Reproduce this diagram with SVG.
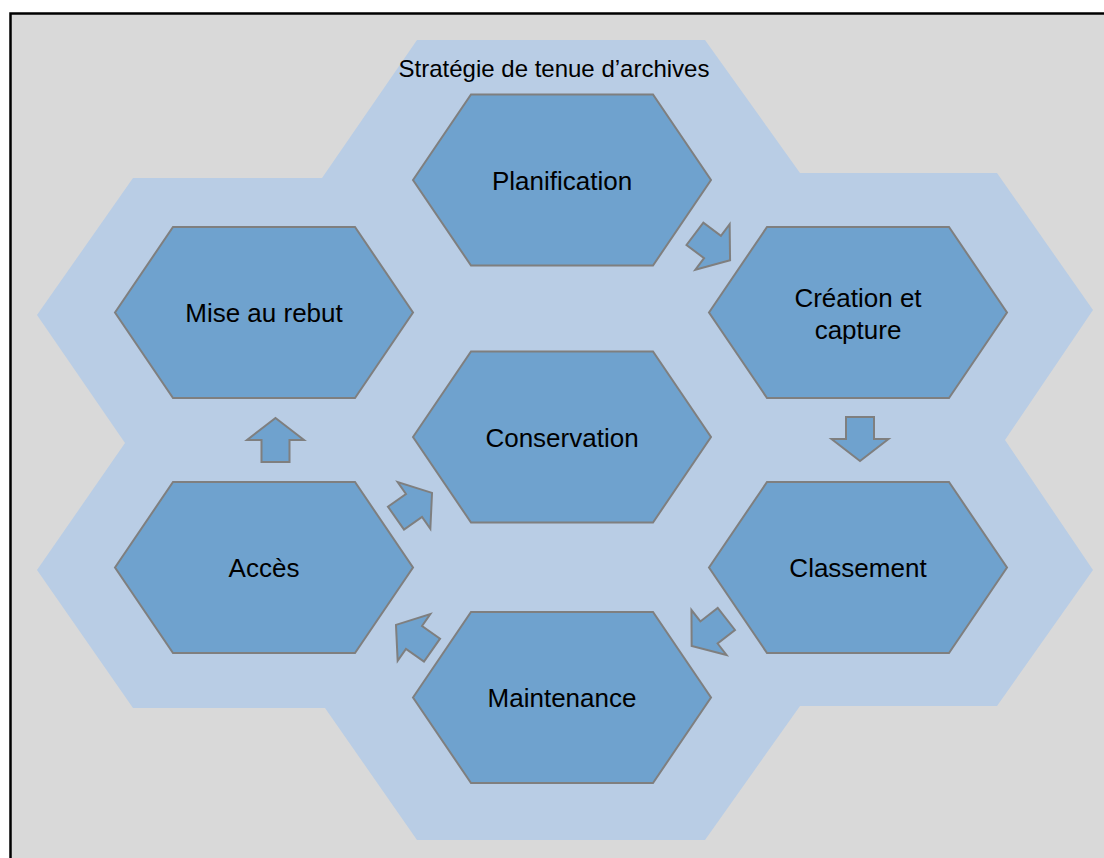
<svg xmlns="http://www.w3.org/2000/svg" width="1104" height="858" viewBox="0 0 1104 858">
  <style>
    .hex { fill: #6FA2CE; stroke: #7F7F7F; stroke-width: 2; }
    .lbl { font-family: "Liberation Sans", Arial, sans-serif; font-size: 26px; fill: #000; text-anchor: middle; }
    .title { font-family: "Liberation Sans", Arial, sans-serif; font-size: 24px; fill: #000; text-anchor: middle; }
    .arr { fill: #6FA2CE; stroke: #7F7F7F; stroke-width: 2; stroke-linejoin: miter; }
  </style>
  <defs>
    <polygon id="hexshape" points="-149,0 -91,-85.5 91,-85.5 149,0 91,85.5 -91,85.5"/>
    <polygon id="arrowshape" points="0,-22 28.5,0 14,0 14,22 -14,22 -14,0 -28.5,0"/>
  </defs>
  <rect x="10.5" y="13.5" width="1110" height="870" fill="#D9D9D9" stroke="#000" stroke-width="2.5"/>
  <g id="background">
    <polygon fill="#B9CDE5" points="417,40 705,40 800,173 997,173 1093,310 1005,440 1093,570 997,706 800,706 705,840 417,840 325,708 133,708 37,570 125,443 37,315 133,178 322,178"/>
    <text class="title" x="554" y="77">Stratégie de tenue d’archives</text>
  </g>
  <g id="node-planification">
    <use href="#hexshape" class="hex" transform="translate(562,180)"/>
    <text class="lbl" x="562" y="190">Planification</text>
  </g>
  <g id="node-creation">
    <use href="#hexshape" class="hex" transform="translate(858,312.5)"/>
    <text class="lbl" x="858" y="307">Création et</text>
    <text class="lbl" x="858" y="339">capture</text>
  </g>
  <g id="node-classement">
    <use href="#hexshape" class="hex" transform="translate(858,567.5)"/>
    <text class="lbl" x="858" y="577">Classement</text>
  </g>
  <g id="node-maintenance">
    <use href="#hexshape" class="hex" transform="translate(562,697.5)"/>
    <text class="lbl" x="562" y="707">Maintenance</text>
  </g>
  <g id="node-acces">
    <use href="#hexshape" class="hex" transform="translate(264,567.5)"/>
    <text class="lbl" x="264" y="577">Accès</text>
  </g>
  <g id="node-mise-au-rebut">
    <use href="#hexshape" class="hex" transform="translate(264,312.5)"/>
    <text class="lbl" x="264" y="322">Mise au rebut</text>
  </g>
  <g id="node-conservation">
    <use href="#hexshape" class="hex" transform="translate(562,437)"/>
    <text class="lbl" x="562" y="447">Conservation</text>
  </g>
  <g id="connectors">
    <use href="#arrowshape" class="arr" transform="translate(712.5,247) rotate(127)"/>
    <use href="#arrowshape" class="arr" transform="translate(860,439) rotate(180)"/>
    <use href="#arrowshape" class="arr" transform="translate(709,632.5) rotate(-128)"/>
    <use href="#arrowshape" class="arr" transform="translate(414,637.5) rotate(-55)"/>
    <use href="#arrowshape" class="arr" transform="translate(275.5,440)"/>
    <use href="#arrowshape" class="arr" transform="translate(414,505.5) rotate(55)"/>
  </g>
</svg>
